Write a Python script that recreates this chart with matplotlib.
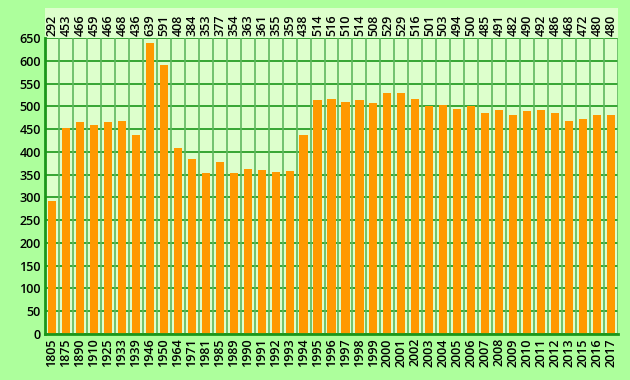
import matplotlib.pyplot as plt
from matplotlib.patches import Rectangle

years = ["1805", "1875", "1890", "1910", "1925", "1933", "1939", "1946", "1950", "1964",
         "1971", "1981", "1985", "1989", "1990", "1991", "1992", "1993", "1994", "1995",
         "1996", "1997", "1998", "1999", "2000", "2001", "2002", "2003", "2004", "2005",
         "2006", "2007", "2008", "2009", "2010", "2011", "2012", "2013", "2015", "2016",
         "2017"]
population = [292, 453, 466, 459, 466, 468, 436, 639, 591, 408,
              384, 353, 377, 354, 363, 361, 355, 359, 438, 514,
              516, 510, 514, 508, 529, 529, 516, 501, 503, 494,
              500, 485, 491, 482, 490, 492, 486, 468, 472, 480,
              480]
yticks = list(range(0, 651, 50))

outer_bg = "#adff9c"
inner_bg = "#ddffcc"
bar_color = "#ff9900"
grid_dark = "#1a961a"
grid_light = "#5fb85f"
fsize = 9

plt.rcParams["font.family"] = ["Open Sans", "DejaVu Sans"]
plt.rcParams["font.weight"] = "semibold"

fig = plt.figure(figsize=(6.3, 3.8), dpi=100, facecolor=outer_bg)
left, right, bottom, top = 45 / 630, 618 / 630, 46 / 380, 342 / 380
ax = fig.add_axes([left, bottom, right - left, top - bottom])

# pale strip behind the value labels above the plot
fig.patches.append(Rectangle((left, top), right - left, (372 - 342) / 380,
                             transform=fig.transFigure, facecolor=inner_bg,
                             edgecolor="none", zorder=-1))

ax.set_facecolor(inner_bg)
n = len(years)
x = list(range(n))
ax.set_xlim(-0.5, n - 0.5)
ax.set_ylim(0, 650)

for yv in yticks:
    ax.axhline(yv, color=grid_dark, lw=1.2, zorder=1)
for i in range(n + 1):
    ax.axvline(i - 0.5, color=grid_light, lw=1.2, zorder=1)

ax.bar(x, population, width=0.58, color=bar_color, zorder=2)

ax.set_yticks(yticks)
ax.set_yticklabels([str(v) for v in yticks], fontsize=fsize)
ax.set_xticks(x)
ax.set_xticklabels(years, rotation=90, fontsize=fsize)
ax.tick_params(length=0, pad=3)

for i, v in enumerate(population):
    ax.text(i, 655, str(v), rotation=90, ha="center", va="bottom",
            fontsize=fsize, clip_on=False, zorder=5)

for side in ["top", "right"]:
    ax.spines[side].set_visible(False)
ax.spines["left"].set_color(grid_dark)
ax.spines["left"].set_linewidth(2)
ax.spines["bottom"].set_color(grid_dark)
ax.spines["bottom"].set_linewidth(2)

fig.savefig("out.png", dpi=100, facecolor=outer_bg)
